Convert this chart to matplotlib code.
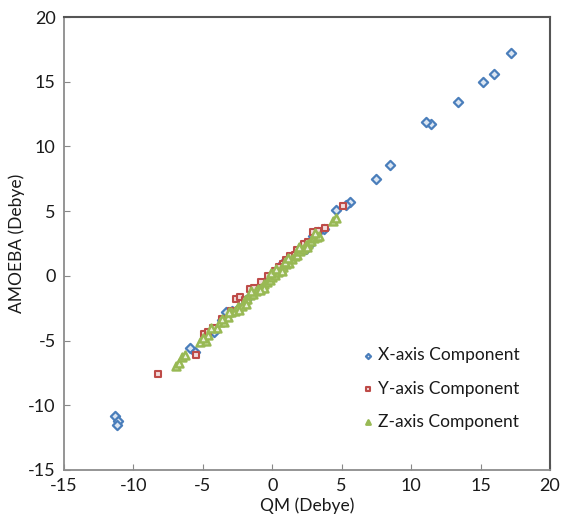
import matplotlib
matplotlib.use('Agg')
import matplotlib.pyplot as plt

# X-axis component (QM, AMOEBA)
x_qm = [17.2, 16.0, 15.2, 13.4, 11.4, 11.1, 8.5, 7.5, 5.6, 5.3, 4.6, 3.7, 3.3,
        2.4, 2.7, 2.0, 1.5, 1.0, 0.5, 0.1, -0.3, -0.8, -1.3, -1.9, -2.4, -2.9,
        -3.6, -4.2, -5.9, -5.6, -11.3, -11.1, -11.2, -3.3, 0.8, 2.9]
x_amoeba = [17.2, 15.6, 15.0, 13.4, 11.7, 11.9, 8.6, 7.5, 5.7, 5.5, 5.1, 3.6, 3.4,
            2.1, 2.5, 2.0, 1.4, 0.9, 0.5, 0.0, -0.4, -0.7, -1.2, -1.9, -2.5, -2.7,
            -3.4, -4.3, -5.6, -5.9, -10.8, -11.2, -11.5, -2.8, 1.0, 3.1]

# Y-axis component
y_qm = [-8.2, -5.5, -4.9, -4.6, -4.3, -3.6, -2.6, -2.3, -1.6, -1.3, -0.8, -0.3,
        0.2, 0.8, 1.3, 1.8, 2.3, 2.9, 3.3, 3.8, 5.1, 0.5, -2.0, 1.0, -3.0, 1.6, 2.6]
y_amoeba = [-7.6, -6.1, -4.5, -4.3, -4.0, -3.3, -1.8, -1.6, -1.0, -0.9, -0.5, 0.0,
            0.4, 0.9, 1.5, 2.0, 2.5, 3.4, 3.5, 3.7, 5.4, 0.7, -1.9, 1.2, -2.7, 1.6, 2.6]

# Z-axis component
z_qm = [-6.9, -6.7, -6.5, -6.3, -5.2, -4.8, -4.6, -4.0, -3.8, -3.5, -3.2, -3.0,
        -2.7, -2.5, -2.2, -2.0, -1.8, -1.6, -1.4, -1.2, -1.0, -0.8, -0.6, -0.4,
        -0.2, 0.0, 0.2, 0.4, 0.6, 0.8, 1.0, 1.2, 1.4, 1.6, 1.8, 2.0, 2.2, 2.4,
        2.6, 2.8, 3.0, 3.2, 3.4, 4.4, 4.6, -0.1, 0.9, -1.9, -0.6,
        -4.4, -3.1, -2.4, -1.5, -0.9, 0.3, 1.1, 1.9, 2.5, 3.1, -5.0, -3.6, 0.7]
z_amoeba = [-7.0, -6.7, -6.3, -6.1, -5.1, -5.0, -4.6, -4.0, -3.6, -3.6, -3.2, -2.8,
            -2.7, -2.4, -2.3, -1.9, -1.8, -1.5, -1.4, -1.2, -1.0, -0.9, -0.6, -0.5,
            -0.3, -0.1, 0.1, 0.3, 0.5, 0.7, 0.9, 1.0, 1.3, 1.5, 1.6, 1.9, 2.1, 2.4,
            2.5, 2.7, 2.9, 3.0, 3.1, 4.2, 4.5, 0.2, 1.1, -2.2, -0.9,
            -4.0, -2.8, -2.6, -1.2, -1.1, 0.5, 1.4, 2.2, 2.2, 3.3, -4.8, -3.3, 0.4]

ticks = [-15, -10, -5, 0, 5, 10, 15, 20]

plt.rcParams['font.family'] = ['Lato', 'DejaVu Sans']
plt.rcParams['axes.unicode_minus'] = False

fig = plt.figure(figsize=(5.63, 5.23), dpi=100)
ax = fig.add_axes([64 / 563, 1 - 470 / 523, 486 / 563, 453 / 523])

ax.scatter(x_qm, x_amoeba, marker='D', s=22, facecolors='#dce6f2',
           edgecolors='#4a7ebb', linewidths=1.6, label='X-axis Component', zorder=3)
ax.scatter(y_qm, y_amoeba, marker='s', s=20, facecolors='#f2dcdb',
           edgecolors='#be4b48', linewidths=1.5, label='Y-axis Component', zorder=3)
ax.scatter(z_qm, z_amoeba, marker='^', s=32, facecolors='#ebf1de',
           edgecolors='#98b954', linewidths=1.8, label='Z-axis Component', zorder=4)

ax.set_xlim(-15, 20)
ax.set_ylim(-15, 20)
ax.set_xticks(ticks)
ax.set_yticks(ticks)
ax.tick_params(direction='in', length=4, color='#888888', labelsize=13,
               labelcolor='#1a1a1a', pad=6)

for side in ['left', 'bottom']:
    ax.spines[side].set_color('#8c8c8c')
    ax.spines[side].set_linewidth(1.3)
for side in ['top', 'right']:
    ax.spines[side].set_color('#555555')
    ax.spines[side].set_linewidth(1.5)

ax.set_xlabel('QM (Debye)', fontsize=12.5, color='#1a1a1a', labelpad=2)
ax.set_ylabel('AMOEBA (Debye)', fontsize=12.5, color='#1a1a1a', labelpad=2)

leg = ax.legend(loc='lower right', bbox_to_anchor=(0.97, 0.054), frameon=False,
                fontsize=12.5, markerscale=0.55, handletextpad=0.1,
                labelspacing=1.0, handlelength=1.0)
for t in leg.get_texts():
    t.set_color('#1a1a1a')

fig.savefig('out.png', dpi=100)
